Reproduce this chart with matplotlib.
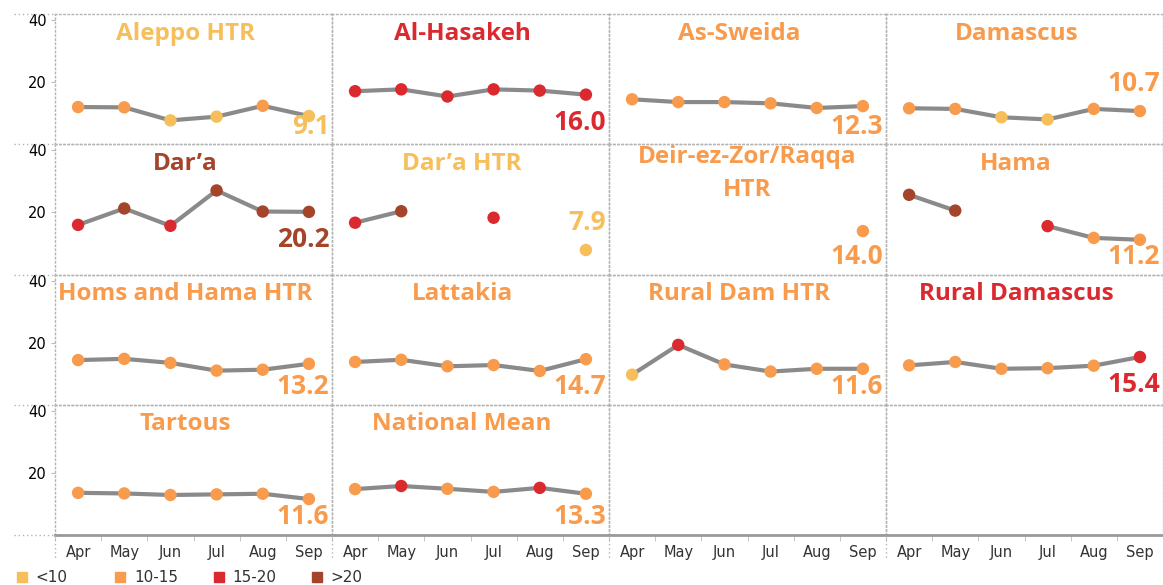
import numpy as np
import matplotlib.pyplot as plt
from matplotlib.lines import Line2D

months = ["Apr", "May", "Jun", "Jul", "Aug", "Sep"]

nan = np.nan
aleppo_htr = [12.0, 11.9, 7.7, 8.9, 12.4, 9.1]
al_hasakeh = [17.1, 17.7, 15.4, 17.7, 17.3, 16.0]
as_sweida = [14.5, 13.6, 13.6, 13.2, 11.7, 12.3]
damascus = [11.6, 11.4, 8.7, 8.0, 11.4, 10.7]
dara = [16.0, 21.3, 15.7, 27.1, 20.3, 20.2]
dara_htr = [16.7, 20.4, nan, 18.3, nan, 7.9]
deir_raqqa_htr = [nan, nan, nan, nan, nan, 14.0]
hama = [25.7, 20.6, nan, 15.6, 11.8, 11.2]
homs_hama_htr = [14.4, 14.8, 13.5, 11.0, 11.3, 13.2]
lattakia = [13.8, 14.5, 12.4, 12.8, 10.9, 14.7]
rural_dam_htr = [9.7, 19.3, 13.0, 10.7, 11.6, 11.6]
rural_damascus = [12.7, 13.8, 11.6, 11.8, 12.6, 15.4]
tartous = [13.6, 13.4, 12.9, 13.1, 13.3, 11.6]
national_mean = [14.8, 15.8, 14.9, 13.9, 15.2, 13.3]

panels = [
    ("Aleppo HTR", aleppo_htr),
    ("Al-Hasakeh", al_hasakeh),
    ("As-Sweida", as_sweida),
    ("Damascus", damascus),
    ("Dar\u2019a", dara),
    ("Dar\u2019a HTR", dara_htr),
    ("Deir-ez-Zor/Raqqa\nHTR", deir_raqqa_htr),
    ("Hama", hama),
    ("Homs and Hama HTR", homs_hama_htr),
    ("Lattakia", lattakia),
    ("Rural Dam HTR", rural_dam_htr),
    ("Rural Damascus", rural_damascus),
    ("Tartous", tartous),
    ("National Mean", national_mean),
]

bin_edges = [10, 15, 20]
bin_labels = ["<10", "10-15", "15-20", ">20"]
bin_colors = ["#F6BF5C", "#F99B4C", "#DA2A30", "#A4442B"]

# panels whose last-value label sits above the mark
label_above = {"Damascus", "Dar\u2019a HTR"}


def bin_color(v):
    return bin_colors[int(np.digitize(v, bin_edges))]


W, H = 1163, 585
fig = plt.figure(figsize=(W / 100, H / 100), dpi=100)

left, right, top, bottom = 55, 1163, 14, 535
pw = (right - left) / 4
ph = (bottom - top) / 4
ylo, yhi = 0, 42
x = np.arange(len(months))
dot = (0, (1, 2))
border = "#b4b4b4"
bold_font = "Open Sans"

for i in range(16):
    r, c = divmod(i, 4)
    ax = fig.add_axes([(left + c * pw) / W, 1 - (top + (r + 1) * ph) / H, pw / W, ph / H])
    ax.set_xlim(-0.5, 5.5)
    ax.set_ylim(ylo, yhi)
    for s in ax.spines.values():
        s.set_linestyle(dot)
        s.set_color(border)
        s.set_linewidth(1)
    if r == 3:
        ax.spines["bottom"].set_linestyle("-")
        ax.spines["bottom"].set_color("#999999")
        ax.spines["bottom"].set_linewidth(2)
        ax.set_xticks(x)
        ax.set_xticklabels(months, fontsize=10.5, color="#333333")
        ax.set_xticks(np.arange(-0.5, 6, 1), minor=True)
        ax.tick_params(axis="x", which="major", length=0, pad=7)
        ax.tick_params(axis="x", which="minor", length=4, color="#bbbbbb")
    else:
        ax.set_xticks([])
    if c == 0:
        ax.set_yticks([20, 40])
        ax.tick_params(axis="y", length=3, color="#bbbbbb", labelsize=10.5, pad=3)
    else:
        ax.set_yticks([])
    ax.set_facecolor("none")

    if i >= len(panels):
        continue
    name, vals = panels[i]
    vals = np.array(vals, dtype=float)
    ax.plot(x, vals, color="#8a8a8a", lw=3, solid_capstyle="round", zorder=2)
    ok = ~np.isnan(vals)
    ax.scatter(x[ok], vals[ok], s=80, c=[bin_color(v) for v in vals[ok]],
               edgecolors="none", zorder=3)

    col = bin_color(vals[-1])
    if "\n" in name:
        ax.text(0.5, 0.773, name, transform=ax.transAxes, ha="center", va="center",
                fontsize=17.5, fontweight="bold", color=col, family=bold_font,
                linespacing=1.5)
    else:
        ax.text(0.47, 0.85, name, transform=ax.transAxes, ha="center", va="center",
                fontsize=17.5, fontweight="bold", color=col, family=bold_font)

    frac = (vals[-1] - ylo) / (yhi - ylo)
    if name in label_above:
        ty = frac + 0.21
    else:
        ty = max(frac - 0.215, 0.14)
    ax.text(0.99, ty, f"{vals[-1]:.1f}", transform=ax.transAxes, ha="right",
            va="center", fontsize=19, fontweight="bold", color=col, family=bold_font)

# grid lines reaching into the axis-label area
for r in range(5):
    yy = 1 - (top + r * ph) / H
    fig.add_artist(Line2D([14 / W, left / W], [yy, yy], color=border, lw=1, ls=dot))
for c in range(4):
    xx = (left + c * pw) / W
    fig.add_artist(Line2D([xx, xx], [1 - bottom / H, 1 - 560 / H], color=border, lw=1, ls=dot))

# colour legend, one entry per bin, evenly spaced like the original
for k, (bc, lab) in enumerate(zip(bin_colors, bin_labels)):
    h = Line2D([], [], marker="s", ls="none", color=bc, markersize=7)
    fig.legend([h], [lab], loc="center left", bbox_to_anchor=((17 + 98.5 * k) / W, 0.013),
               frameon=False, handlelength=0.6, handletextpad=0.6, borderpad=0,
               borderaxespad=0, fontsize=11, labelcolor="#333333")

fig.savefig("out.png", dpi=100)
